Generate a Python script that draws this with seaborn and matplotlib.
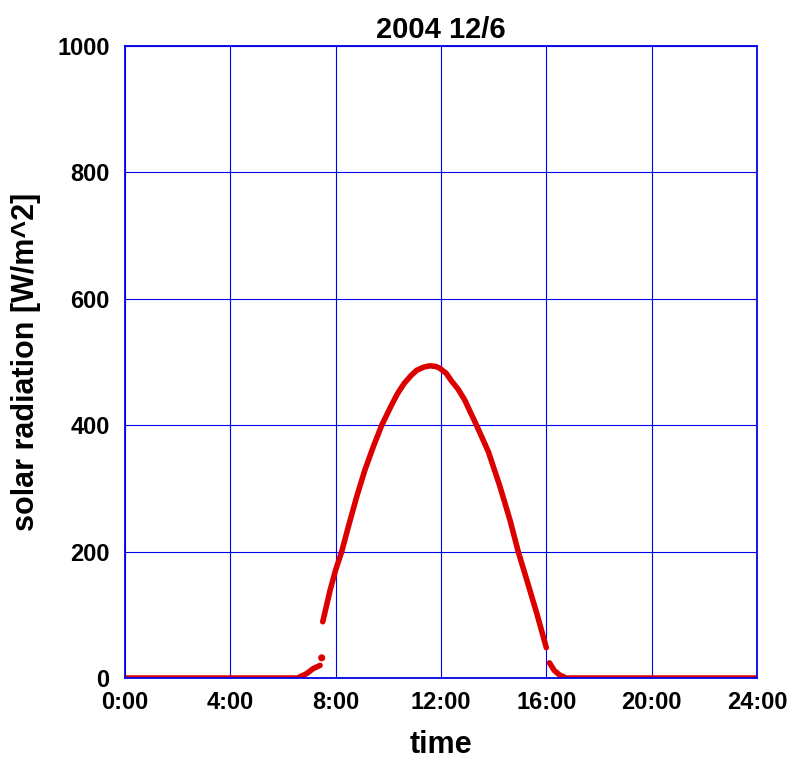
import matplotlib
matplotlib.use("Agg")
import matplotlib.pyplot as plt
import seaborn as sns
import pandas as pd

# solar radiation readings (hour of day, W/m^2), split into the recorded pieces
dawn_hours = [0.0, 6.55, 6.9, 7.15, 7.41]
dawn_rad = [0, 0, 7, 15, 20]

spike_hours = [7.47]
spike_rad = [32]

day_hours = [7.51, 7.79, 8.0, 8.23, 8.48, 8.8, 9.11, 9.43, 9.75, 10.1, 10.35,
             10.6, 10.85, 11.08, 11.35, 11.58, 11.8, 11.96, 12.2, 12.4, 12.65,
             12.9, 13.36, 13.8, 14.24, 14.62, 14.94, 15.26, 15.64, 16.0]
day_rad = [89, 139, 171, 200, 239, 287, 329, 366, 400, 430, 450,
           466, 478, 487, 492, 494, 493, 490, 482, 470, 457,
           440, 399, 358, 303, 250, 199, 155, 102, 48]

dusk_hours = [16.12, 16.3, 16.5, 16.75, 24.0]
dusk_rad = [24, 12, 5, 0, 0]

x_ticks = [0, 4, 8, 12, 16, 20, 24]
x_labels = ["0:00", "4:00", "8:00", "12:00", "16:00", "20:00", "24:00"]
y_ticks = [0, 200, 400, 600, 800, 1000]

df = pd.concat([
    pd.DataFrame({"hour": dawn_hours, "rad": dawn_rad, "seg": "dawn"}),
    pd.DataFrame({"hour": day_hours, "rad": day_rad, "seg": "day"}),
    pd.DataFrame({"hour": dusk_hours, "rad": dusk_rad, "seg": "dusk"}),
])
spike = pd.DataFrame({"hour": spike_hours, "rad": spike_rad})

sns.set_style("white")
plt.rcParams["font.family"] = ["Liberation Sans", "DejaVu Sans"]
plt.rcParams["font.weight"] = "bold"
plt.rcParams["text.color"] = "black"
plt.rcParams["axes.labelcolor"] = "black"
plt.rcParams["xtick.color"] = "black"
plt.rcParams["ytick.color"] = "black"

red = "#dd0000"
blue = "#0000ee"

fig = plt.figure(figsize=(7.91, 7.69), dpi=100)
ax = fig.add_axes([0.158, 0.1183, 0.799, 0.8219])

sns.lineplot(data=df, x="hour", y="rad", units="seg", estimator=None,
             color=red, lw=4.0, solid_capstyle="round", ax=ax, zorder=3)
sns.scatterplot(data=spike, x="hour", y="rad", color=red, s=26,
                edgecolor="none", ax=ax, zorder=3)

ax.set_xlim(0, 24)
ax.set_ylim(0, 1000)
ax.set_xticks(x_ticks)
ax.set_xticklabels(x_labels)
ax.set_yticks(y_ticks)
ax.grid(True, color=blue, lw=0.8)
ax.set_axisbelow(True)
for sp in ax.spines.values():
    sp.set_color(blue)
    sp.set_linewidth(1.3)
    sp.set_visible(True)
    sp.set_zorder(4)
ax.tick_params(axis="both", length=0, labelsize=17, colors="black")
ax.tick_params(axis="x", pad=9)
ax.tick_params(axis="y", pad=11)
for lab in ax.get_xticklabels() + ax.get_yticklabels():
    lab.set_fontweight("bold")

ax.set_title("2004 12/6", fontsize=21, fontweight="bold", pad=6, color="black")
ax.set_xlabel("time", fontsize=22, fontweight="bold", labelpad=12, color="black")
ax.set_ylabel("solar radiation [W/m^2]", fontsize=22, fontweight="bold",
              labelpad=12, color="black")

fig.savefig("out.png", dpi=100)
